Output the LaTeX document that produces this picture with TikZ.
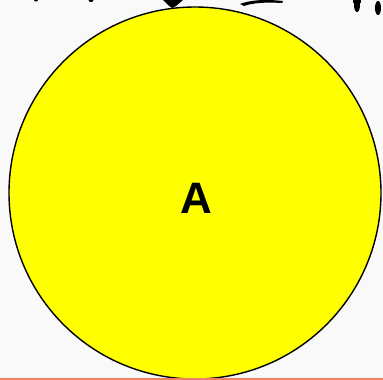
\documentclass[tikz,border=0pt]{standalone}
\usepackage{fontspec}
\setmainfont{Liberation Sans}
\definecolor{pureyellow}{RGB}{255,255,0}
\definecolor{bottomline}{RGB}{240,128,100}
\definecolor{bgpaper}{RGB}{249,249,249}
\begin{document}
\begin{tikzpicture}[x=1pt,y=-1pt,
  circ/.style={circle,draw=black,line width=1.4pt,fill=pureyellow,minimum size=372pt,inner sep=0pt},
  lbl/.style={font=\fontsize{44}{48}\selectfont\bfseries},
  ink/.style={fill=black}]
\fill[bgpaper] (0,0) rectangle (383,380);
\useasboundingbox (0,0) rectangle (383,380);
\node[circ] (c) at (195,193) {};
\node[lbl] (a) at (196,198) {A};
% cropped handwriting fragments at top
\fill[ink] (36,0) ellipse (2 and 1.5);
\fill[ink] (91,0) ellipse (2.5 and 2);
\fill[ink] (163,0) -- (183,0) -- (176,6) -- (172,8) -- (168,5) -- cycle;
\fill[ink] (240,4) .. controls (250,0) and (265,-1) .. (283,1) -- (282,3) .. controls (265,2) and (252,3) .. (244,6) -- cycle;
\fill[ink] (357,5) ellipse (3 and 7);
\fill[ink] (378,8) ellipse (3 and 7);
\fill[ink] (353,0) rectangle (361,3);
% bottom line
\fill[bottomline] (0,378) rectangle (383,380);
\end{tikzpicture}
\end{document}
